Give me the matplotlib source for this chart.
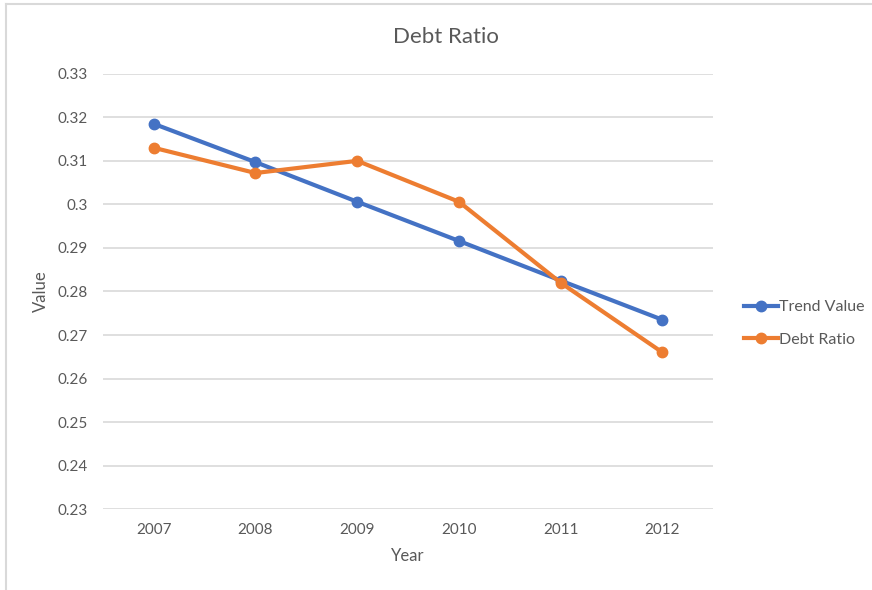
import matplotlib
matplotlib.use("Agg")
import matplotlib.pyplot as plt
from matplotlib.lines import Line2D

plt.rcParams['font.family'] = ['Lato', 'DejaVu Sans']

years = ['2007', '2008', '2009', '2010', '2011', '2012']
trend_value = [0.3185, 0.3097, 0.3006, 0.2916, 0.2825, 0.2735]
debt_ratio = [0.3130, 0.3072, 0.3100, 0.3006, 0.2820, 0.2660]
y_ticks = [0.23, 0.24, 0.25, 0.26, 0.27, 0.28, 0.29, 0.30, 0.31, 0.32, 0.33]
y_labels = ['0.23', '0.24', '0.25', '0.26', '0.27', '0.28', '0.29', '0.3', '0.31', '0.32', '0.33']

grey = '#595959'
fig = plt.figure(figsize=(8.72, 5.9), dpi=100)
ax = fig.add_axes([0.118, 0.137, 0.700, 0.738])

x = range(len(years))
ax.plot(x, trend_value, color='#4472C4', lw=3, marker='o', ms=7.5, label='Trend Value')
ax.plot(x, debt_ratio, color='#ED7D31', lw=3, marker='o', ms=7.5, label='Debt Ratio')

ax.set_xlim(-0.5, len(years) - 0.5)
ax.set_ylim(0.23, 0.33)
ax.set_xticks(list(x))
ax.set_xticklabels(years)
ax.set_yticks(y_ticks)
ax.set_yticklabels(y_labels)
ax.tick_params(length=0, labelsize=11, colors=grey, pad=11)
ax.tick_params(axis='x', pad=10)
ax.grid(axis='y', color='#D9D9D9', lw=1.2)
ax.set_axisbelow(True)
for s in ax.spines.values():
    s.set_visible(False)

ax.set_xlabel('Year', fontsize=12, color=grey, labelpad=8)
ax.set_ylabel('Value', fontsize=12, color=grey, labelpad=6)
fig.text(0.511, 0.937, 'Debt Ratio', ha='center', va='center', fontsize=16, color=grey)

fig.legend(loc='center left', bbox_to_anchor=(0.837, 0.452), frameon=False,
           fontsize=11.5, labelcolor=grey, handlelength=2.1, handletextpad=0.1,
           labelspacing=1.15)

# chart frame (only top and left edges show)
fig.add_artist(Line2D([6 / 872, 6 / 872], [0, 1 - 4 / 590], transform=fig.transFigure,
                      color='#D9D9D9', lw=1.5))
fig.add_artist(Line2D([6 / 872, 1], [1 - 4 / 590, 1 - 4 / 590], transform=fig.transFigure,
                      color='#D9D9D9', lw=1.5))

fig.savefig('out.png', dpi=100)
